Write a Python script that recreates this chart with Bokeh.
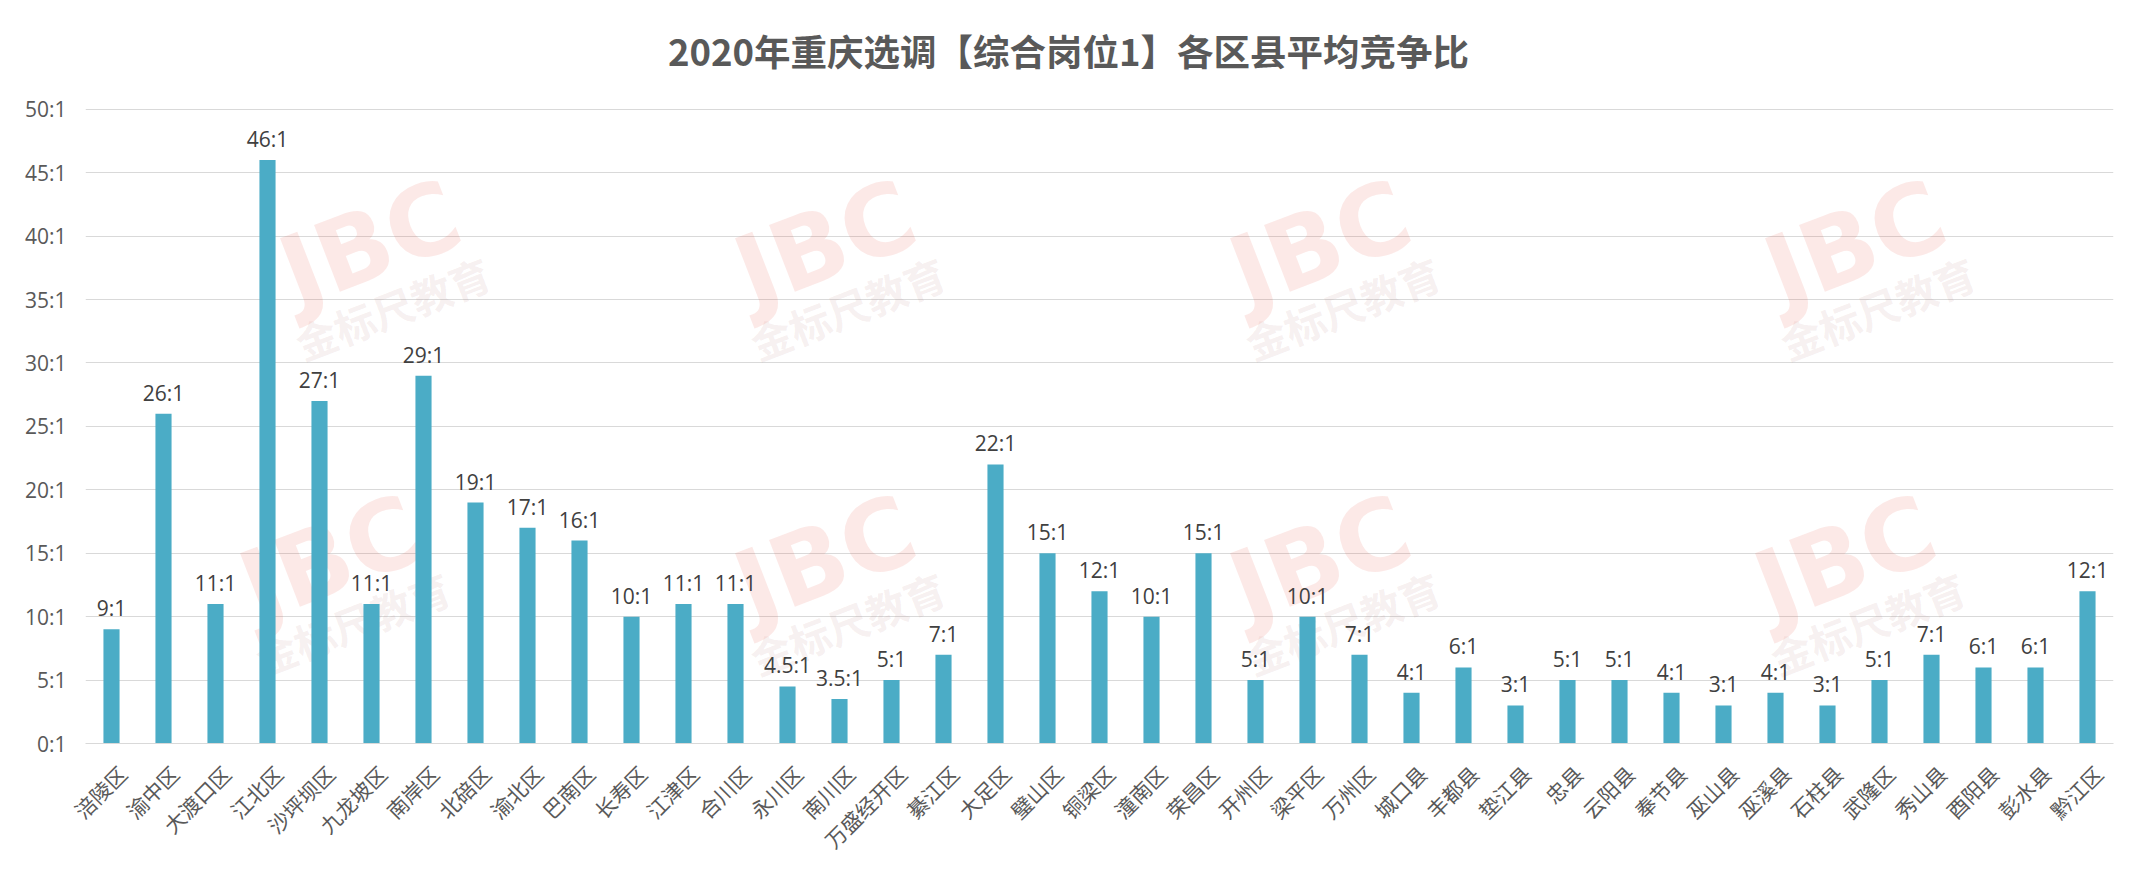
import math
from bokeh.plotting import figure
from bokeh.models import ColumnDataSource, Range1d, FixedTicker, Label
from bokeh.core.properties import value
from bokeh.embed import file_html
from bokeh.resources import INLINE

districts = ["涪陵区", "渝中区", "大渡口区", "江北区", "沙坪坝区", "九龙坡区", "南岸区",
             "北碚区", "渝北区", "巴南区", "长寿区", "江津区", "合川区", "永川区", "南川区",
             "万盛经开区", "綦江区", "大足区", "璧山区", "铜梁区", "潼南区", "荣昌区", "开州区",
             "梁平区", "万州区", "城口县", "丰都县", "垫江县", "忠县", "云阳县", "奉节县",
             "巫山县", "巫溪县", "石柱县", "武隆区", "秀山县", "酉阳县", "彭水县", "黔江区"]
ratios = [9, 26, 11, 46, 27, 11, 29, 19, 17, 16, 10, 11, 11, 4.5, 3.5, 5, 7, 22, 15, 12,
          10, 15, 5, 10, 7, 4, 6, 3, 5, 5, 4, 3, 4, 3, 5, 7, 6, 6, 12]
ratio_labels = ["9:1", "26:1", "11:1", "46:1", "27:1", "11:1", "29:1", "19:1", "17:1", "16:1",
                "10:1", "11:1", "11:1", "4.5:1", "3.5:1", "5:1", "7:1", "22:1", "15:1", "12:1",
                "10:1", "15:1", "5:1", "10:1", "7:1", "4:1", "6:1", "3:1", "5:1", "5:1",
                "4:1", "3:1", "4:1", "3:1", "5:1", "7:1", "6:1", "6:1", "12:1"]
y_ticks = [0, 5, 10, 15, 20, 25, 30, 35, 40, 45, 50]
y_tick_labels = ["0:1", "5:1", "10:1", "15:1", "20:1", "25:1", "30:1", "35:1", "40:1", "45:1", "50:1"]
title_text = "2020年重庆选调【综合岗位1】各区县平均竞争比"

# watermark logo anchor positions (screen px, relative to plot frame bottom-left)
wm_positions = [(285, 500), (740, 500), (1235, 500), (1770, 500),
                (245, 185), (740, 185), (1235, 185), (1760, 185)]

n = len(districts)
xpos = [i + 0.5 for i in range(n)]            # category centres
label_pos = [x + 0.21 for x in xpos]          # rotated labels hang slightly right of centre

src = ColumnDataSource(dict(x=xpos, district=districts, ratio=ratios, label=ratio_labels))

# the frame extends above the 50:1 line so that the title can sit inside it
p = figure(x_range=Range1d(0, n), y_range=Range1d(0, 57),
           width=2115, height=869, output_backend="svg", toolbar_location=None,
           min_border_left=85, min_border_right=2, min_border_top=20, min_border_bottom=126,
           outline_line_color=None, background_fill_color="white", border_fill_color="white")

# title (placed relative to the plot frame)
p.add_layout(Label(x=983, y=693, x_units="screen", y_units="screen", text=title_text,
                   text_font="Noto Sans CJK SC", text_font_size="36.5px", text_font_style="bold",
                   text_color="#595959", text_align="center", text_baseline="middle"))

# watermark
for (sx, sy) in wm_positions:
    p.add_layout(Label(x=sx, y=sy, x_units="screen", y_units="screen", text="JBC",
                       text_font="DejaVu Sans", text_font_size="98px", text_font_style="bold",
                       text_color="#e8463c", text_alpha=0.12, angle=0.37,
                       text_align="center", text_baseline="middle", level="underlay"))
    p.add_layout(Label(x=sx + 22, y=sy - 64, x_units="screen", y_units="screen", text="金标尺教育",
                       text_font="Noto Sans CJK SC", text_font_size="41px", text_font_style="bold",
                       text_color="#b07070", text_alpha=0.11, angle=0.37,
                       text_align="center", text_baseline="middle", level="underlay"))

p.vbar(x="x", top="ratio", width=0.31, source=src, color="#4bacc6", line_color=None)
p.text(x="x", y="ratio", text="label", source=src, text_align="center",
       text_baseline="alphabetic", y_offset=-21, text_font=value("Open Sans"),
       text_font_size="21px", text_color="#404040")

p.xgrid.grid_line_color = None
p.ygrid.grid_line_color = "#d9d9d9"
p.ygrid.grid_line_width = 1.2

p.yaxis.ticker = FixedTicker(ticks=y_ticks)
p.yaxis.major_label_overrides = {t: l for t, l in zip(y_ticks, y_tick_labels)}
p.yaxis.axis_line_color = None
p.yaxis.major_tick_line_color = None
p.yaxis.minor_tick_line_color = None
p.yaxis.major_label_standoff = 13
p.yaxis.major_label_text_font = "Open Sans"
p.yaxis.major_label_text_font_size = "21px"
p.yaxis.major_label_text_color = "#595959"

p.xaxis.ticker = FixedTicker(ticks=label_pos)
p.xaxis.major_label_overrides = {t: d for t, d in zip(label_pos, districts)}
p.xaxis.axis_line_color = "#d9d9d9"
p.xaxis.axis_line_width = 1.2
p.xaxis.major_tick_line_color = None
p.xaxis.minor_tick_line_color = None
p.xaxis.major_label_orientation = math.pi / 4
p.xaxis.major_label_standoff = 20
p.xaxis.major_label_text_font = "Noto Sans CJK SC"
p.xaxis.major_label_text_font_size = "21px"
p.xaxis.major_label_text_color = "#595959"

open("out.html", "w").write(file_html(p, INLINE))
